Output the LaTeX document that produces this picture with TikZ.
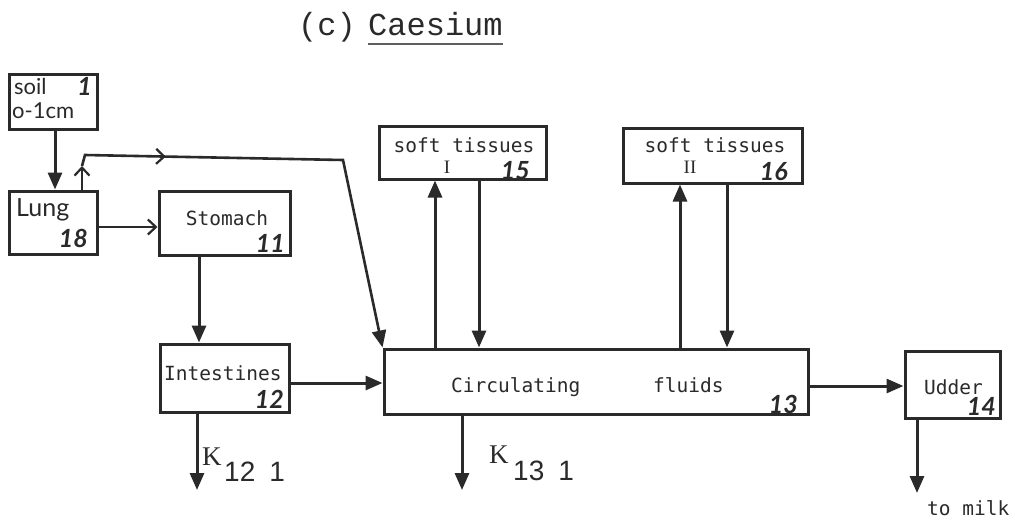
\documentclass[tikz,border=0pt]{standalone}
\usepackage{fontspec}
\setmainfont{Liberation Serif}
\newfontfamily\monof{DejaVu Sans Mono}
\newfontfamily\titlef{Liberation Mono}
\newfontfamily\handf{Lato}
\newfontfamily\kserif{Liberation Serif}
\newfontfamily\ksans{Liberation Sans}
\usetikzlibrary{arrows.meta,decorations.markings}
\definecolor{ink}{HTML}{2A2A2A}
\tikzset{
  box/.style={draw=ink, line width=3pt, fill=white, inner sep=0pt},
  flow/.style={draw=ink, line width=3pt, -{Triangle[width=14pt,length=17pt]}},
  barb/.style={draw=ink, line width=2.2pt, -{Straight Barb[width=15pt,length=8pt]}},
  mono/.style={font=\monof\fontsize{19.5}{22}\selectfont, text=ink, inner sep=0pt},
  hand/.style={font=\handf\fontsize{25}{28}\selectfont, text=ink, inner sep=0pt},
  smallhand/.style={font=\handf\fontsize{22}{24}\selectfont, text=ink, inner sep=0pt},
  num/.style={font=\handf\itshape\bfseries\fontsize{25}{28}\selectfont, text=ink, inner sep=0pt},
  ttl/.style={font=\titlef\fontsize{32}{36}\selectfont, text=ink, inner sep=0pt},
  kk/.style={font=\kserif\fontsize{27}{30}\selectfont, text=ink, inner sep=0pt},
  kd/.style={font=\ksans\fontsize{28}{30}\selectfont, text=ink, inner sep=0pt},
  roman/.style={font=\kserif\fontsize{19}{20}\selectfont, text=ink, inner sep=0pt},
}
\begin{document}
\begin{tikzpicture}[x=1pt,y=-1pt]
\useasboundingbox (0,0) rectangle (1015,520);

% title
\node[ttl, anchor=base west] (ttlc) at (298,35) {(c)};
\node[ttl, anchor=base west] (ttlcs) at (368,35) {Caesium};
\draw[ink!75, line width=2.4pt] (ttlcs.base west |- 0,44) -- (ttlcs.base east |- 0,44);

% boxes
\node[box, minimum width=88pt, minimum height=55pt] (soil) at (53,101.5) {};
\node[box, minimum width=88pt, minimum height=63pt] (lung) at (53,222.5) {};
\node[box, minimum width=131pt, minimum height=64pt] (stom) at (224.5,223) {};
\node[box, minimum width=129pt, minimum height=68pt] (intest) at (224.5,378) {};
\node[box, minimum width=424pt, minimum height=65pt] (circ) at (596,381.5) {};
\node[box, minimum width=95pt, minimum height=67pt] (udder) at (952.5,384.5) {};
\node[box, minimum width=167pt, minimum height=53pt] (st1) at (462.5,152.5) {};
\node[box, minimum width=179pt, minimum height=55pt] (st2) at (712.5,155.5) {};

% texts
\node[smallhand, anchor=base west] (tsoil) at (14,94) {soil};
\node[num, anchor=base east] (nsoil) at (92,95) {1};
\node[smallhand, anchor=base west] (tdepth) at (12,118) {o-1cm};
\node[hand, anchor=base west] (tlung) at (16,216) {Lung};
\node[num, anchor=base east] (nlung) at (88,247) {18};
\node[mono, anchor=base] (tstom) at (227,225) {Stomach};
\node[num, anchor=base east] (nstom) at (285,252) {11};
\node[mono, anchor=base west] (tint) at (164,380) {Intestines};
\node[num, anchor=base east] (nint) at (284,408) {12};
\node[mono, anchor=base west] (tcirc) at (451,392) {Circulating};
\node[mono, anchor=base west] (tflu) at (653,392) {fluids};
\node[num, anchor=base east] (ncirc) at (798,413) {13};
\node[mono, anchor=base west] (tud) at (924,394) {Udder};
\node[num, anchor=base east] (nud) at (996,415) {14};
\node[mono, anchor=base] (tst1) at (464,152) {soft tissues};
\node[roman, anchor=base] (rst1) at (447,173) {I};
\node[num, anchor=base east] (nst1) at (530,179) {15};
\node[mono, anchor=base] (tst2) at (715,152) {soft tissues};
\node[roman, anchor=base] (rst2) at (690,173) {II};
\node[num, anchor=base east] (nst2) at (788,180) {16};
\node[mono, anchor=base west] (tmilk) at (927,515) {to milk};

% K labels
\node[kk, anchor=base west] (k12) at (202,465) {K};
\node[kd, anchor=base west] (k12d) at (224,481) {12\hspace{14pt}1};
\node[kk, anchor=base west] (k13) at (489,463) {K};
\node[kd, anchor=base west] (k13d) at (513,480) {13\hspace{14pt}1};

% connectors
\draw[flow] (soil.south -| 55,0) -- (lung.north -| 55,0);
\coordinate (up) at (82,166);
\coordinate (c1) at (85,155);
\coordinate (c2) at (343,160);
\draw[barb] (lung.north -| 82,0) -- (up);
\draw[draw=ink, line width=2.6pt, -{Triangle[width=14pt,length=17pt]},
  postaction={decorate},
  decoration={markings, mark=at position 0.2 with {\arrow[ink, line width=2.2pt]{Straight Barb[width=15pt,length=8pt]}}}]
  (up) -- (c1) -- (c2) -- (circ.north west);
\draw[barb] (lung.east |- 0,227) -- (stom.west |- 0,227);
\draw[flow] (stom.south -| 199,0) -- (intest.north -| 199,0);
\draw[flow] (intest.east |- 0,383) -- (circ.west |- 0,383);
\draw[flow] (intest.south -| 197,0) -- (197,490);
\draw[flow] (circ.south -| 462,0) -- (462,490);
\draw[flow] (circ.east |- 0,386) -- (udder.west |- 0,386);
\draw[flow] (udder.south -| 917,0) -- (917,493);
\draw[flow] (circ.north -| 435,0) -- (st1.south -| 435,0);
\draw[flow] (st1.south -| 479,0) -- (circ.north -| 479,0);
\draw[flow] (circ.north -| 680,0) -- (st2.south -| 680,0);
\draw[flow] (st2.south -| 727,0) -- (circ.north -| 727,0);
\end{tikzpicture}
\end{document}
